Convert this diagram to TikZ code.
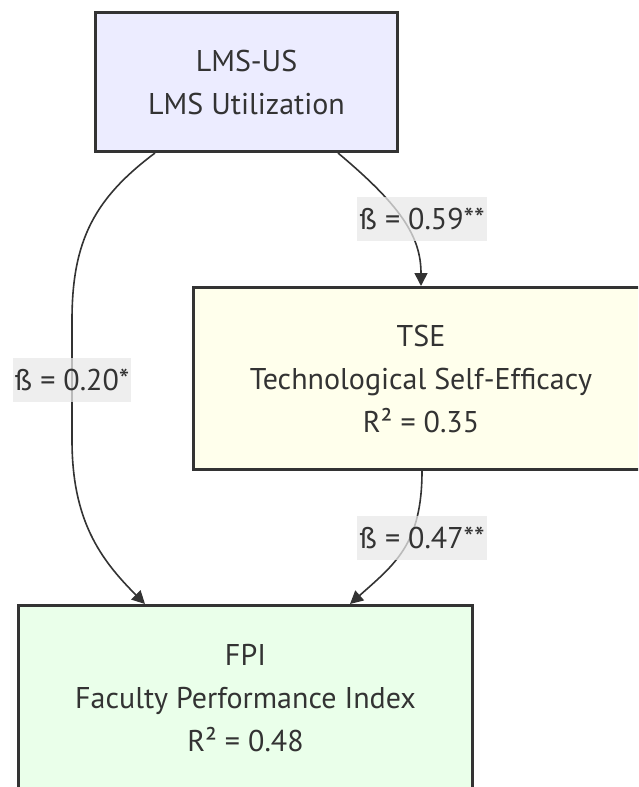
\documentclass[tikz,border=0pt]{standalone}
\usepackage{fontspec}
\setmainfont{PT Sans}
\usetikzlibrary{arrows.meta}
\definecolor{textGray}{HTML}{333333}
\definecolor{labelGray}{HTML}{E8E8E8}
\definecolor{lmsFill}{HTML}{ECECFF}
\definecolor{tseFill}{HTML}{FFFFEC}
\definecolor{fpiFill}{HTML}{EAFFEA}

\begin{document}
\begin{tikzpicture}
[x=1pt,y=-1pt,
  lineDecorate/.style={-{Triangle[length=13pt,width=13pt]},line width=1.6pt,draw=textGray},%
  boxDecorate/.style={shape=rectangle,draw=textGray,line width=3pt,align=center,text=textGray},
  labelDecorate/.style={fill=labelGray,fill opacity=0.75,text opacity=1,text=textGray,
    inner xsep=2pt,inner ysep=0pt,minimum height=44pt}]
\fontsize{30}{43}\selectfont
\useasboundingbox (0,0) rectangle (638,787);
\clip (0,0) rectangle (638,787);
%% nodes or boxes
\foreach \nodename/\x/\y/\w/\h/\col/\txt in {
  lms/246.5/82/302/139/lmsFill/{LMS-US\\LMS Utilization},
  tse/421/378.5/456/182/tseFill/{TSE\\Technological Self-Efficacy\\R² = 0.35},
  fpi/245.5/698/454/185/fpiFill/{FPI\\Faculty Performance Index\\R² = 0.48}}
{
  \node (\nodename) at (\x,\y) [boxDecorate,fill=\col,minimum width=\w pt,minimum height=\h pt] {\txt};
}
%% edges or lines
\draw[lineDecorate] ([xshift=-91.5pt]lms.south) .. controls +(-60,45) and +(0,-80) .. (72,320)
  -- node[labelDecorate] (b20) {ß = 0.20*} (72,440)
  .. controls +(0,80) and +(-45,-45) .. ([xshift=-100.5pt]fpi.north);
\draw[lineDecorate] ([xshift=91.5pt]lms.south) .. controls +(62,52) and +(0,-50) .. (tse.north);
\draw[lineDecorate] ([xshift=1pt]tse.south) .. controls +(0,73) and +(45,-40) .. ([xshift=104.5pt]fpi.north);
%% edge labels
\node (b59) at (422,219) [labelDecorate] {ß = 0.59**};
\node (b47) at (422,538) [labelDecorate] {ß = 0.47**};
\end{tikzpicture}
\end{document}
